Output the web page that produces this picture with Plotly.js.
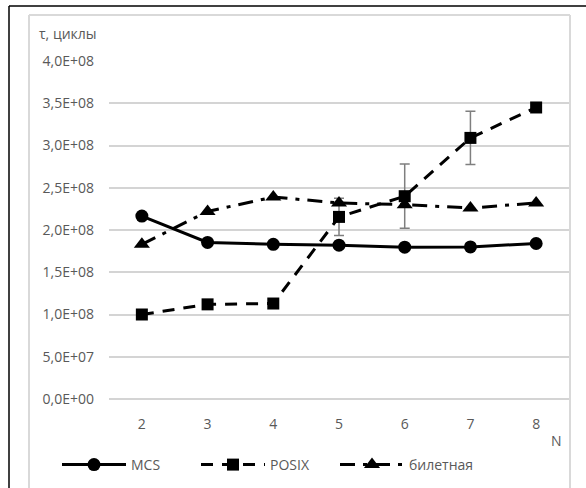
<!DOCTYPE html>
<html>
<head>
<meta charset="utf-8">
<script src="https://cdn.plot.ly/plotly-3.0.1.min.js"></script>
<style>html,body{margin:0;padding:0;background:#fff;overflow:hidden;}#chart{width:586px;height:488px;}</style>
</head>
<body>
<div id="chart"></div>
<script>
// Data
const categories = ['2', '3', '4', '5', '6', '7', '8'];
const mcs = [2.165e8, 1.853e8, 1.83e8, 1.82e8, 1.797e8, 1.80e8, 1.84e8];
const posix = [1.0e8, 1.12e8, 1.13e8, 2.155e8, 2.40e8, 3.09e8, 3.45e8];
const posixErr = [0, 0, 0, 2.2e7, 3.8e7, 3.15e7, 0];
const ticket = [1.83e8, 2.22e8, 2.39e8, 2.32e8, 2.30e8, 2.26e8, 2.32e8];
const seriesNames = ['MCS', 'POSIX', 'билетная'];
const yTickVals = [0, 5e7, 1e8, 1.5e8, 2e8, 2.5e8, 3e8, 3.5e8, 4e8];
const yTickText = ['0,0E+00', '5,0E+07', '1,0E+08', '1,5E+08', '2,0E+08', '2,5E+08', '3,0E+08', '3,5E+08', '4,0E+08'];
const yTitle = 'τ, циклы';
const xTitle = 'N';

const FONT = 'Open Sans, Noto Sans, sans-serif';
const GREY = '#595959';
const FS = 14;
const L = 109, R = 17, T = 61, B = 89, W = 586, H = 488;
const cx = x => x / W;
const cy = y => 1 - y / H;
const pxX = x => (x - L) / (W - L - R);
const pxY = y => (H - B - y) / (H - T - B);

// trailing em space keeps the gap between the labels and the plot
const yTickLabels = yTickText.map(t => t + '\u2003');

const traces = [
  {x: categories, y: mcs, name: seriesNames[0], type: 'scatter', mode: 'lines+markers',
   line: {color: '#000', width: 3},
   marker: {symbol: 'circle', size: 13, color: '#000'}},
  {x: categories, y: posix, name: seriesNames[1], type: 'scatter', mode: 'lines+markers',
   line: {color: '#000', width: 3, dash: '12px,9px'},
   marker: {symbol: 'square', size: 12, color: '#000'},
   error_y: {type: 'data', array: posixErr, visible: true, color: '#7f7f7f', thickness: 1.5, width: 5}},
  {x: categories, y: ticket, name: seriesNames[2], type: 'scatter', mode: 'lines+markers',
   line: {color: '#000', width: 3, dash: '15px,8px,4px,8px'},
   marker: {symbol: 'triangle-up', size: 14, color: '#000'}}
];

const frameShapes = [
  {type: 'line', xref: 'paper', yref: 'paper', x0: pxX(9), x1: pxX(9), y0: pxY(6), y1: pxY(500),
   line: {color: '#000', width: 1.5}},
  {type: 'line', xref: 'paper', yref: 'paper', x0: pxX(9), x1: pxX(600), y0: pxY(6), y1: pxY(6),
   line: {color: '#000', width: 1.5}},
  {type: 'line', xref: 'paper', yref: 'paper', x0: pxX(29), x1: pxX(29), y0: pxY(15), y1: pxY(500),
   line: {color: '#d9d9d9', width: 2}},
  {type: 'line', xref: 'paper', yref: 'paper', x0: pxX(29), x1: pxX(570), y0: pxY(15), y1: pxY(15),
   line: {color: '#d9d9d9', width: 2}},
  {type: 'line', xref: 'paper', yref: 'paper', x0: pxX(570), x1: pxX(570), y0: pxY(15), y1: pxY(500),
   line: {color: '#d9d9d9', width: 2}}
];

const layout = {
  width: W, height: H,
  margin: {l: L, r: R, t: T, b: B, pad: 0, autoexpand: false},
  paper_bgcolor: '#fff', plot_bgcolor: '#fff',
  font: {family: FONT, size: FS, color: GREY},
  showlegend: true,
  legend: {orientation: 'h', xref: 'container', yref: 'container', x: cx(57), xanchor: 'left', y: cy(465), yanchor: 'middle',
           font: {family: FONT, size: FS, color: GREY}, itemwidth: 64, entrywidth: 60,
           bgcolor: 'rgba(0,0,0,0)', traceorder: 'normal'},
  xaxis: {type: 'category', categoryorder: 'array', categoryarray: categories,
          showgrid: false, zeroline: false, showline: false, ticks: '',
          ticklabelstandoff: 15, tickfont: {family: FONT, size: FS, color: GREY},
          range: [-0.5, 6.5], fixedrange: true},
  yaxis: {range: [0, 4e8], tickmode: 'array', tickvals: yTickVals, ticktext: yTickLabels,
          showgrid: true, gridcolor: '#d4d4d4', gridwidth: 2,
          zeroline: true, zerolinecolor: '#d4d4d4', zerolinewidth: 2, showline: false, ticks: '',
          tickfont: {family: FONT, size: FS, color: GREY}, fixedrange: true},
  annotations: [
    {text: yTitle, xref: 'paper', yref: 'paper', x: pxX(37), y: pxY(33), xanchor: 'left', yanchor: 'middle',
     showarrow: false, font: {family: FONT, size: FS, color: GREY}},
    {text: xTitle, xref: 'paper', yref: 'paper', x: pxX(556), y: pxY(440), xanchor: 'center', yanchor: 'middle',
     showarrow: false, font: {family: FONT, size: FS, color: GREY}}
  ],
  shapes: frameShapes
};

Plotly.newPlot('chart', traces, layout, {staticPlot: true, displayModeBar: false});
</script>
</body>
</html>
